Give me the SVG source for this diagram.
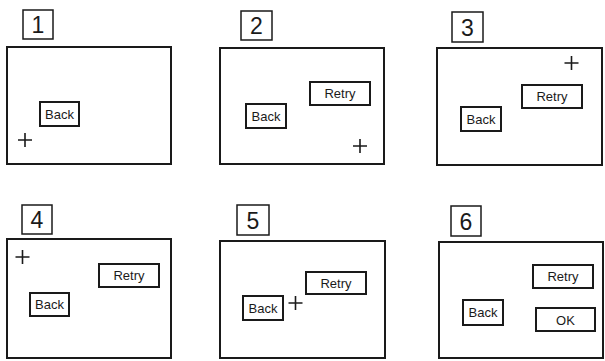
<svg xmlns="http://www.w3.org/2000/svg" width="605" height="361" viewBox="0 0 605 361">
<style>
.frame{fill:none;stroke:#1a1a1a;stroke-width:2}
.num{fill:none;stroke:#1a1a1a;stroke-width:1.5}
.btn{fill:#fff;stroke:#1a1a1a;stroke-width:2}
.plus{stroke:#1a1a1a;stroke-width:1.6;fill:none}
.nt{font-family:"Liberation Sans",Arial,sans-serif;font-size:23px;fill:#1a1a1a;text-anchor:middle}
.bt{font-family:"Liberation Sans",Arial,sans-serif;font-size:13px;fill:#1a1a1a;text-anchor:middle}
</style>
<defs>
<path id="plus" class="plus" d="M-7,0H7M0,-7V7"/>
</defs>
<rect width="605" height="361" fill="#fff"/>

<g id="panel1">
<rect class="num" x="23" y="10" width="30" height="29"/>
<text class="nt" x="38" y="33">1</text>
<rect class="frame" x="7" y="47" width="164" height="117"/>
<g id="p1-back"><rect class="btn" x="40" y="102" width="39" height="24"/><text class="bt" x="59.5" y="118.5">Back</text></g>
<use href="#plus" x="25" y="140"/>
</g>

<g id="panel2">
<rect class="num" x="241" y="11" width="31" height="29"/>
<text class="nt" x="256.5" y="34">2</text>
<rect class="frame" x="220" y="48" width="164" height="116"/>
<g id="p2-retry"><rect class="btn" x="310" y="82" width="60" height="23"/><text class="bt" x="340" y="98">Retry</text></g>
<g id="p2-back"><rect class="btn" x="246" y="104" width="40" height="24"/><text class="bt" x="266" y="120.5">Back</text></g>
<use href="#plus" x="360" y="146"/>
</g>

<g id="panel3">
<rect class="num" x="452" y="12" width="31" height="30"/>
<text class="nt" x="467.5" y="35.5">3</text>
<rect class="frame" x="437" y="48" width="165" height="117"/>
<g id="p3-retry"><rect class="btn" x="522" y="85" width="60" height="23"/><text class="bt" x="552" y="101">Retry</text></g>
<g id="p3-back"><rect class="btn" x="461" y="107" width="40" height="24"/><text class="bt" x="481" y="123.5">Back</text></g>
<use href="#plus" x="571.5" y="63"/>
</g>

<g id="panel4">
<rect class="num" x="22" y="205" width="30" height="29"/>
<text class="nt" x="37" y="228">4</text>
<rect class="frame" x="7" y="239" width="164" height="119"/>
<g id="p4-retry"><rect class="btn" x="99" y="264" width="60" height="23"/><text class="bt" x="129" y="280">Retry</text></g>
<g id="p4-back"><rect class="btn" x="30" y="293" width="39" height="23"/><text class="bt" x="49.5" y="309">Back</text></g>
<use href="#plus" x="22.5" y="257"/>
</g>

<g id="panel5">
<rect class="num" x="237" y="205" width="32" height="30"/>
<text class="nt" x="253" y="228.5">5</text>
<rect class="frame" x="220" y="241" width="165" height="117"/>
<g id="p5-retry"><rect class="btn" x="306" y="272" width="60" height="22"/><text class="bt" x="336" y="287.5">Retry</text></g>
<g id="p5-back"><rect class="btn" x="243" y="296" width="40" height="24"/><text class="bt" x="263" y="312.5">Back</text></g>
<use href="#plus" x="295.5" y="303"/>
</g>

<g id="panel6">
<rect class="num" x="451" y="206" width="30" height="30"/>
<text class="nt" x="466" y="229.5">6</text>
<rect class="frame" x="439" y="242" width="164" height="116"/>
<g id="p6-retry"><rect class="btn" x="533" y="265" width="60" height="23"/><text class="bt" x="563" y="281">Retry</text></g>
<g id="p6-back"><rect class="btn" x="463" y="300" width="40" height="25"/><text class="bt" x="483" y="317">Back</text></g>
<g id="p6-ok"><rect class="btn" x="536" y="308" width="59" height="23"/><text class="bt" x="565.5" y="324.5">OK</text></g>
</g>
</svg>
